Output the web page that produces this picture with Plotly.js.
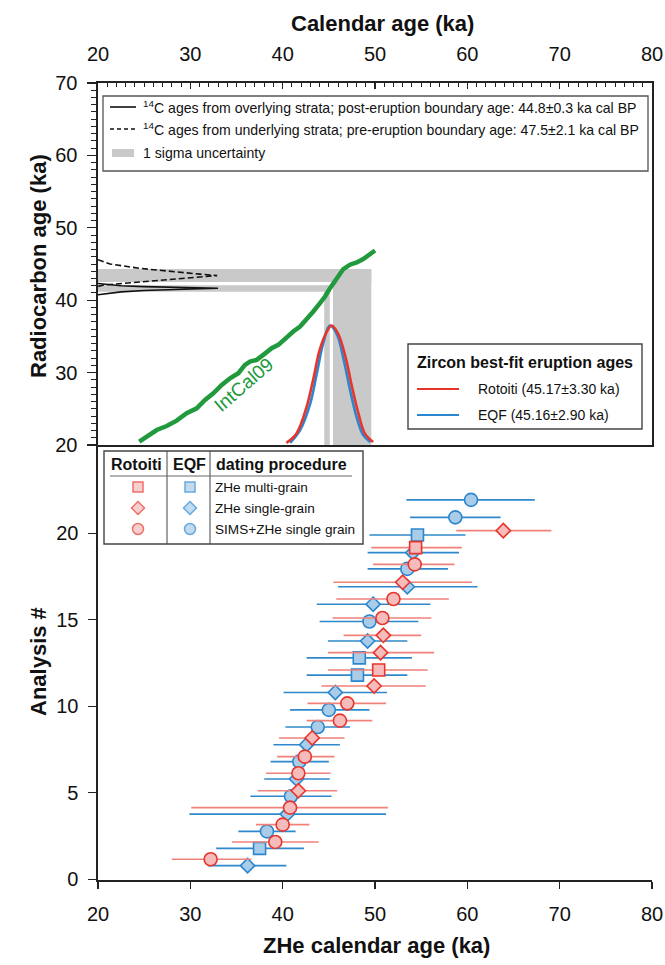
<!DOCTYPE html>
<html><head><meta charset="utf-8">
<script src="https://cdn.plot.ly/plotly-3.0.1.min.js"></script>
<style>html,body{margin:0;padding:0;background:#fff}#c{width:665px;height:965px}</style>
</head><body><div id="c"></div>
<script>
// ---------- DATA ----------
// IntCal09 calibration curve (calendar ka, radiocarbon ka)
const intcalX = [24.47,25.45,26.36,27.44,28.52,29.6,30.69,31.59,32.49,33.40,34.30,35.20,35.92,36.46,37.19,37.90,38.81,39.53,40.44,41.15,41.88,42.60,43.32,44.04,44.59,45.13,45.85,46.57,47.29,48.02,48.73,49.46,50.0];
const intcalY = [20.46,21.38,22.07,22.63,23.36,24.38,25.07,26.22,27.15,28.30,29.22,29.92,31.07,31.52,31.76,32.45,33.37,33.83,34.98,35.67,36.36,37.29,38.44,39.60,40.51,41.67,43.06,44.30,44.90,45.21,45.68,46.28,46.87];
// 14C probability curves (drawn against left axis; x = probability scaled in ka units)
const overX = [20.0,21.0,22.5,25.0,28.0,31.0,33.0,31.0,28.0,25.0,22.5,21.0,20.0];
const overY = [42.30,42.15,42.00,41.88,41.78,41.70,41.65,41.58,41.50,41.35,41.15,40.95,40.75];
const underX = [20.0,21.3,24.5,28.2,31.0,32.9,31.0,27.4,23.5,20.6,20.0];
const underY = [45.6,45.0,44.4,43.9,43.6,43.4,43.2,42.8,42.4,42.1,41.9];
// boundary ages (calendar ka, ±1 sigma) and radiocarbon ranges
const postAge = [44.8, 0.3];
const preAge  = [47.5, 2.1];
const postC14 = [41.6, 0.45];
const preC14  = [43.4, 0.9];
// Zircon best-fit eruption age curves
const rotCurveX = [40.4,41.5,42.6,43.3,44.0,44.8,45.3,46.0,46.8,47.5,48.2,48.9,49.8];
const rotCurveY = [20.3,21.6,25.3,29.0,33.1,35.7,36.5,35.4,32.2,28.1,24.4,21.6,20.4];
const eqfCurveX = [40.8,41.9,43.0,43.7,44.4,45.1,45.9,46.6,47.3,48.0,48.7,49.5];
const eqfCurveY = [20.3,22.1,25.8,29.9,34.1,36.5,35.2,31.8,27.6,23.9,21.4,20.4];
// Rotoiti ZHe analyses
const rotY    = [1.16,2.16,3.16,4.14,5.12,6.13,7.09,8.17,9.17,10.17,11.17,12.1,13.1,14.1,15.1,16.2,17.17,18.2,19.17,20.15];
const rotAge  = [32.2,39.2,40.0,40.8,41.7,41.7,42.4,43.2,46.2,47.0,49.9,50.4,50.6,50.9,50.8,52.0,53.0,54.3,54.4,63.9];
const rotLo   = [28.0,34.5,37.1,30.1,37.3,38.2,39.4,39.6,42.6,42.7,44.2,44.9,44.9,46.6,45.4,45.8,45.5,49.8,49.6,58.8];
const rotHi   = [36.6,43.9,42.9,51.4,45.9,45.2,45.6,46.7,49.7,51.2,55.5,55.7,56.4,55.0,56.1,58.0,60.5,58.6,59.4,69.1];
const rotProc = ['sims','sims','sims','sims','single','sims','sims','single','sims','sims','single','multi','single','single','sims','sims','single','sims','multi','single'];
// EQF ZHe analyses
const eqfY    = [0.79,1.79,2.77,3.77,4.8,5.8,6.8,7.78,8.8,9.79,10.8,11.8,12.8,13.77,14.9,15.9,16.91,17.94,18.88,19.9,20.92,21.93];
const eqfAge  = [36.2,37.5,38.3,40.5,40.9,41.5,41.8,42.6,43.8,45.0,45.7,48.1,48.3,49.2,49.4,49.8,53.5,53.5,54.1,54.6,58.7,60.4];
const eqfLo   = [31.9,32.8,35.2,29.9,36.5,38.0,38.7,39.0,40.3,40.8,40.1,42.6,42.6,44.9,44.0,43.7,46.0,49.2,49.2,49.4,53.8,53.4];
const eqfHi   = [40.4,42.3,41.4,51.2,45.3,45.1,45.0,46.2,47.3,49.4,51.3,53.5,54.0,53.5,54.7,56.0,61.1,57.9,59.1,59.8,63.6,67.3];
const eqfProc = ['single','multi','sims','single','sims','single','sims','single','sims','sims','single','multi','multi','single','sims','single','single','sims','single','multi','sims','sims'];
// labels
const procNames = {multi:'ZHe multi-grain', single:'ZHe single-grain', sims:'SIMS+ZHe single grain'};
const procOrder = ['multi','single','sims'];
const procSymbol = {multi:'square', single:'diamond', sims:'circle'};
const topLegend = ['<sup>14</sup>C ages from overlying strata; post-eruption boundary age: 44.8±0.3 ka cal BP',
                   '<sup>14</sup>C ages from underlying strata; pre-eruption boundary age: 47.5±2.1 ka cal BP',
                   '1 sigma uncertainty'];
const zirconTitle = 'Zircon best-fit eruption ages';
const zirconNames = ['Rotoiti (45.17±3.30 ka)', 'EQF (45.16±2.90 ka)'];

// ---------- STYLE ----------
const FN = '"Liberation Sans",Arial,sans-serif';
const FB = '"Liberation Sans",Arial,sans-serif';
const RED='#e8352c', BLUE='#2a86cf', GREEN='#21993d', GRAY='#c9c9c9';
const RFILL='#f6bcbc', BFILL='#a9cde8', RBAR='#f0827a', BBAR='#2f88cb';
const L=98, R=652, T=83, B=880, SPLIT=445;
const PX = p => (p-L)/(R-L);
const PY = p => (B-p)/(B-T);
const D = PY(SPLIT);

const traces = [];
// gray bands (top panel)
function band(x0,x1,y0,y1){
  traces.push({x:[x0,x1,x1,x0,x0], y:[y0,y0,y1,y1,y0], xaxis:'x2', yaxis:'y2', mode:'lines', fill:'toself',
    fillcolor:GRAY, line:{width:0,color:GRAY}, hoverinfo:'skip', showlegend:false});
}
band(20, preAge[0]+preAge[1], preC14[0]-preC14[1], preC14[0]+preC14[1]);
band(20, postAge[0]+postAge[1], postC14[0]-postC14[1], postC14[0]+postC14[1]);
band(postAge[0]-postAge[1], postAge[0]+postAge[1], 20, postC14[0]+postC14[1]);
band(preAge[0]-preAge[1]+0.05, preAge[0]+preAge[1], 20, preC14[0]+preC14[1]);

traces.push({x:underX, y:underY, xaxis:'x2', yaxis:'y2', mode:'lines', line:{color:'#111',width:1.6,dash:'6px,3px'}, showlegend:false});
traces.push({x:overX, y:overY, xaxis:'x2', yaxis:'y2', mode:'lines', line:{color:'#111',width:1.6}, showlegend:false});
traces.push({x:intcalX, y:intcalY, xaxis:'x2', yaxis:'y2', mode:'lines', line:{color:GREEN,width:4.5}, showlegend:false});
traces.push({x:eqfCurveX, y:eqfCurveY, xaxis:'x2', yaxis:'y2', mode:'lines', line:{color:BLUE,width:2.6,shape:'spline'}, showlegend:false});
traces.push({x:rotCurveX, y:rotCurveY, xaxis:'x2', yaxis:'y2', mode:'lines', line:{color:RED,width:2.6,shape:'spline'}, showlegend:false});

// bottom panel points
function addSeries(ys, ages, lo, hi, proc, fill, edge, bar){
  procOrder.forEach(p=>{
    const idx = proc.map((v,i)=>v===p?i:-1).filter(i=>i>=0);
    traces.push({
      x: idx.map(i=>ages[i]), y: idx.map(i=>ys[i]), xaxis:'x', yaxis:'y', mode:'markers', showlegend:false,
      error_x:{type:'data', symmetric:false, array: idx.map(i=>hi[i]-ages[i]), arrayminus: idx.map(i=>ages[i]-lo[i]),
               color:bar, thickness:1.6, width:0},
      marker:{symbol:procSymbol[p], size: p==='sims'?13:(p==='multi'?12:11), color:fill, line:{color:edge,width:1.6}}
    });
  });
}
addSeries(eqfY, eqfAge, eqfLo, eqfHi, eqfProc, BFILL, BLUE, BBAR);
addSeries(rotY, rotAge, rotLo, rotHi, rotProc, RFILL, RED, RBAR);

// legend symbols drawn on a pixel-scaled overlay axis
const legRowsY = [487, 508, 529];
traces.push({x:[138,138,138], y:legRowsY, xaxis:'x3', yaxis:'y3', mode:'markers', showlegend:false, cliponaxis:false,
  marker:{symbol:procOrder.map(p=>procSymbol[p]), size:[10,10,11], color:RFILL, line:{color:RED,width:1.5}}});
traces.push({x:[190,190,190], y:legRowsY, xaxis:'x3', yaxis:'y3', mode:'markers', showlegend:false, cliponaxis:false,
  marker:{symbol:procOrder.map(p=>procSymbol[p]), size:[10,10,11], color:BFILL, line:{color:BLUE,width:1.5}}});

const shapes = [];
const ann = [];
const pr = {xref:'paper', yref:'paper'};
function rect(x0,y0,x1,y1,opt){ shapes.push(Object.assign({type:'rect', x0:PX(x0), x1:PX(x1), y0:PY(y0), y1:PY(y1)}, pr, opt)); }
function seg(x0,y0,x1,y1,opt){ shapes.push(Object.assign({type:'line', x0:PX(x0), x1:PX(x1), y0:PY(y0), y1:PY(y1)}, pr, opt)); }
function txt(x,y,t,opt){ ann.push(Object.assign({x:PX(x), y:PY(y), text:t, showarrow:false, xanchor:'left', yanchor:'middle'}, pr, opt)); }

// top legend
rect(103,96,648,171,{line:{color:'#555',width:1.3}, fillcolor:'rgba(255,255,255,1)'});
seg(110,107,136,107,{line:{color:'#111',width:1.6}});
seg(110,129,136,129,{line:{color:'#111',width:1.6,dash:'4px,3px'}});
rect(112,149,134,157,{line:{width:0}, fillcolor:GRAY});
txt(141,107,topLegend[0],{font:{family:FN,size:14.1,color:'#111'}});
txt(141,129,topLegend[1],{font:{family:FN,size:14.1,color:'#111'}});
txt(141,153,topLegend[2],{font:{family:FN,size:14.1,color:'#111'}});

// zircon legend
rect(408,344,642,429,{line:{color:'#444',width:1.4}, fillcolor:'rgba(255,255,255,0)'});
txt(415,362,'<b>'+zirconTitle+'</b>',{font:{family:FB,size:16,color:'#111'}});
seg(417,389,459,389,{line:{color:RED,width:2.2}});
seg(417,415,459,415,{line:{color:BLUE,width:2.2}});
txt(476,389,zirconNames[0],{font:{family:FN,size:14,color:'#111'}});
txt(476,415,zirconNames[1],{font:{family:FN,size:14,color:'#111'}});

// bottom legend table
rect(104,451,363,544,{line:{color:'#444',width:1.4}, fillcolor:'rgba(255,255,255,1)', layer:'below'});
seg(167,451,167,544,{line:{color:'#444',width:1}});
seg(210,451,210,544,{line:{color:'#444',width:1}});
seg(110,476,352,476,{line:{color:'#666',width:1}});
txt(136,464,'<b>Rotoiti</b>',{xanchor:'center',font:{family:FB,size:16,color:'#111'}});
txt(189,464,'<b>EQF</b>',{xanchor:'center',font:{family:FB,size:16,color:'#111'}});
txt(214,464,'<b>dating procedure</b>',{font:{family:FB,size:16,color:'#111'}});
procOrder.forEach((p,i)=>txt(213,legRowsY[i],procNames[p],{font:{family:FN,size:13.6,color:'#111'}}));

// IntCal09 label
ann.push({x:35.8, y:28.4, xref:'x2', yref:'y2', text:'IntCal09', showarrow:false, textangle:-41,
  font:{family:'"Liberation Sans",Arial,sans-serif', size:19, color:GREEN}});

// axis titles
txt(382,23,'<b>Calendar age (ka)</b>',{xanchor:'center',font:{family:FB,size:22,color:'#111'}});
txt(376,945,'<b>ZHe calendar age (ka)</b>',{xanchor:'center',font:{family:FB,size:22,color:'#111'}});
txt(38,266,'<b>Radiocarbon age (ka)</b>',{xanchor:'center',textangle:-90,font:{family:FB,size:22,color:'#111'}});
txt(38,662,'<b>Analysis #</b>',{xanchor:'center',textangle:-90,font:{family:FB,size:22,color:'#111'}});

const tickF = {family:FN, size:20, color:'#111'};
const ax = {showgrid:false, zeroline:false, showline:true, linecolor:'#222', linewidth:1.6, tickcolor:'#222', tickwidth:1.3, tickfont:tickF, fixedrange:true};
const layout = {
  width:665, height:965, margin:{l:L, r:665-R, t:T, b:965-B},
  paper_bgcolor:'#fff', plot_bgcolor:'rgba(0,0,0,0)', showlegend:false,
  xaxis: Object.assign({}, ax, {anchor:'y', domain:[0,1], range:[20,80], dtick:10, ticks:'outside', ticklen:7, ticklabelstandoff:8}),
  yaxis: Object.assign({}, ax, {anchor:'x', domain:[0,D], range:[-0.04,25.1], tickvals:[0,5,10,15,20], ticks:'outside', ticklen:8, ticklabelstandoff:6}),
  xaxis2: Object.assign({}, ax, {anchor:'y2', side:'top', domain:[0,1], range:[20,80], dtick:10, ticks:'inside', ticklen:6, mirror:true, ticklabelstandoff:12,
     minor:{dtick:1, ticks:'inside', ticklen:4, tickcolor:'#222', tickwidth:1}}),
  yaxis2: Object.assign({}, ax, {anchor:'x2', domain:[D,1], range:[20,70], dtick:10, ticks:'outside', ticklen:9, mirror:true, ticklabelstandoff:6,
     minor:{dtick:1, ticks:'outside', ticklen:5, tickcolor:'#222', tickwidth:1}}),
  xaxis3: {anchor:'y3', domain:[0,1], range:[L,R], visible:false, fixedrange:true},
  yaxis3: {anchor:'x3', domain:[0,1], range:[B,T], visible:false, fixedrange:true},
  shapes: shapes, annotations: ann
};
Plotly.newPlot('c', traces, layout, {displayModeBar:false, staticPlot:true});
</script></body></html>
